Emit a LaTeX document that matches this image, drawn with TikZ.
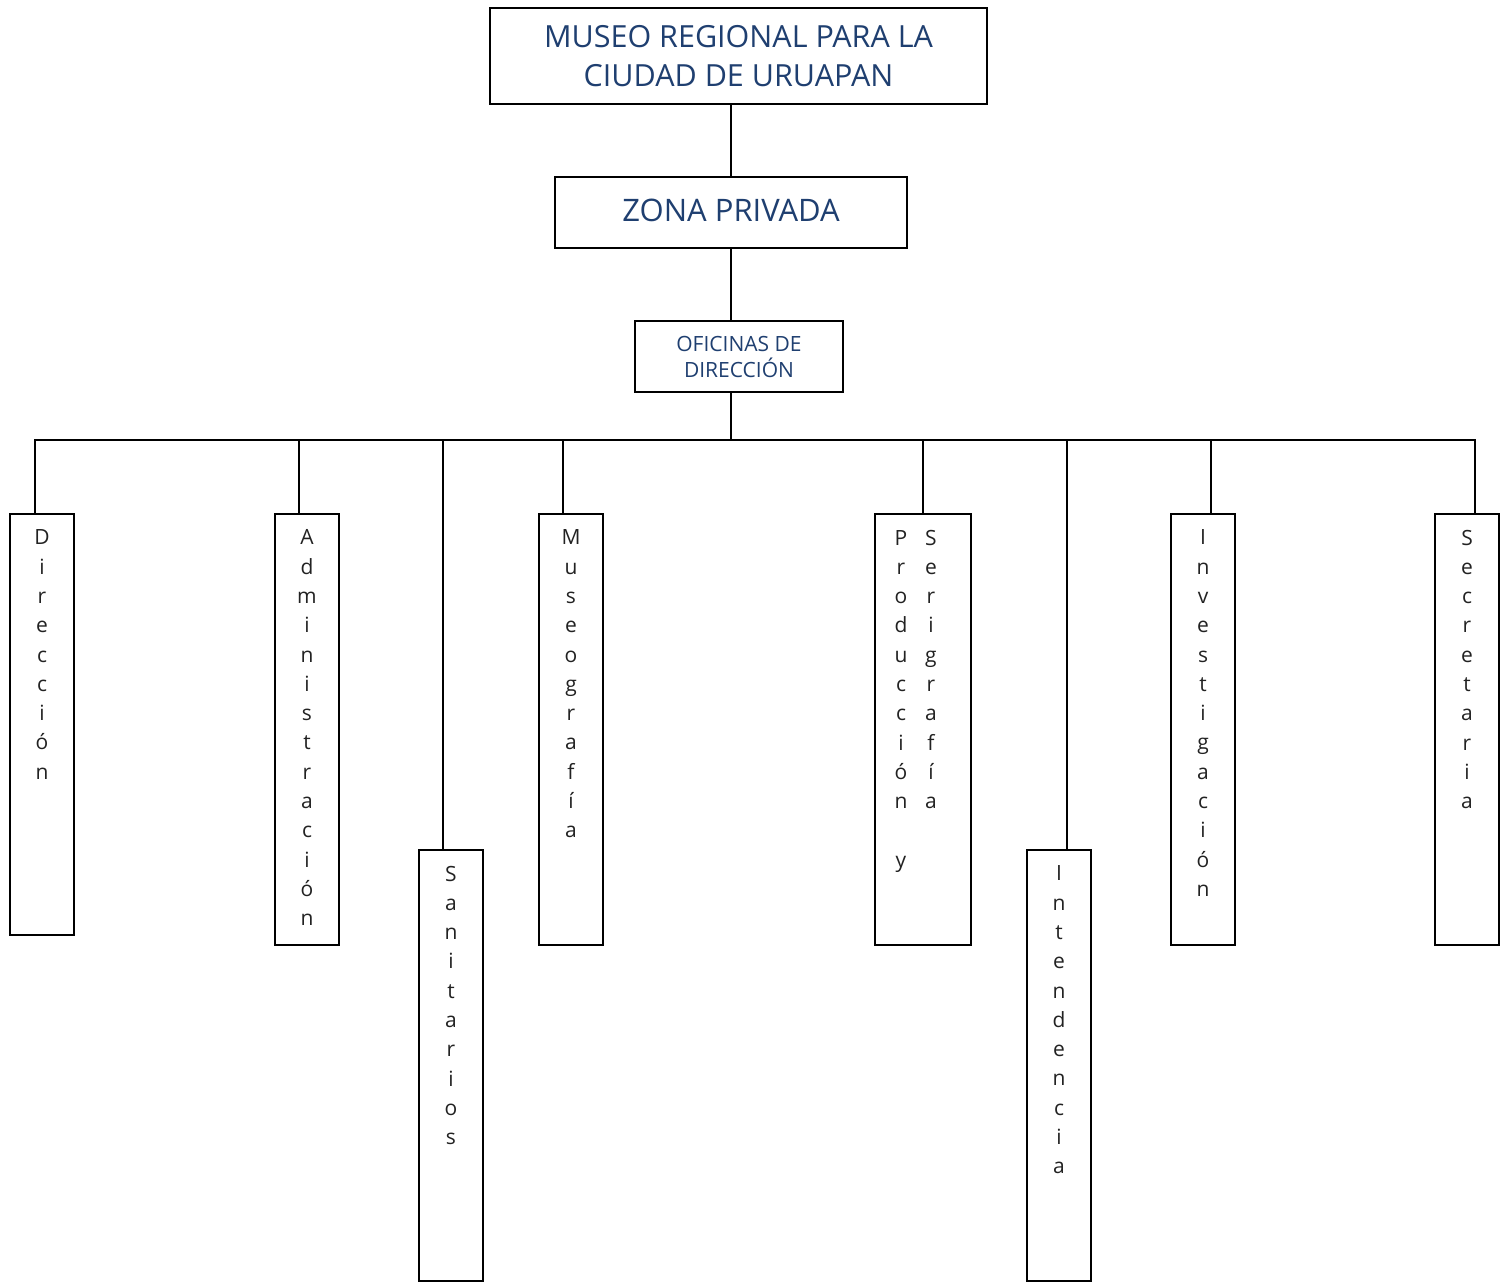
\documentclass[tikz,border=0pt]{standalone}
\usepackage{fontspec}
\setmainfont{Open Sans}
\definecolor{titleblue}{HTML}{1F3F70}
\definecolor{lettergray}{HTML}{222222}
\newcommand\colboxw[3]{\vbox to #1{\hsize=#2\centering\parindent=0pt\baselineskip=29.3pt\vskip 16pt #3\par\vfill}}
\newcommand\colbox[2]{\colboxw{#1}{64pt}{#2}}
\newcommand\pr[2]{\makebox[30pt]{#1}\makebox[30pt]{#2}\makebox[14pt]{}}
\begin{document}
\begin{tikzpicture}[x=1pt,y=-1pt,
  box/.style={draw, line width=1.6pt, inner sep=0pt, text=titleblue, align=center},
  col/.style={draw, line width=1.6pt, inner sep=0pt, anchor=north, text=lettergray, font=\fontsize{21}{29.3}\selectfont},
  link/.style={line width=1.6pt}]
\useasboundingbox (0,0) rectangle (1501,1283);
\node[box, minimum width=497pt, minimum height=96pt, font=\fontsize{30.5}{39}\selectfont] (top) at (738.5,56) {MUSEO REGIONAL PARA LA\\CIUDAD DE URUAPAN};
\node[box, minimum width=352pt, minimum height=71pt, font=\fontsize{31}{34}\selectfont] (zona) at (731,212.5) {\raisebox{4pt}{ZONA PRIVADA}};
\node[box, minimum width=208pt, minimum height=71pt, font=\fontsize{21}{26}\selectfont] (ofi) at (739,356.5) {OFICINAS DE\\DIRECCIÓN};

\node[col] (b1) at (42,513) {\colbox{421pt}{D\par i\par r\par e\par c\par c\par i\par ó\par n}};
\node[col] (b2) at (307,513) {\colbox{431pt}{A\par d\par m\par i\par n\par i\par s\par t\par r\par a\par c\par i\par ó\par n}};
\node[col] (b3) at (451,849) {\colbox{431pt}{S\par a\par n\par i\par t\par a\par r\par i\par o\par s}};
\node[col] (b4) at (571,513) {\colbox{431pt}{M\par u\par s\par e\par o\par g\par r\par a\par f\par í\par a}};
\node[col] (b5) at (923,513) {\colboxw{431pt}{96pt}{\pr{P}{S}\par\pr{r}{e}\par\pr{o}{r}\par\pr{d}{i}\par\pr{u}{g}\par\pr{c}{r}\par\pr{c}{a}\par\pr{i}{f}\par\pr{ó}{í}\par\pr{n}{a}\par\pr{}{}\par\pr{y}{}}};
\node[col] (b6) at (1059,849) {\colbox{431pt}{I\par n\par t\par e\par n\par d\par e\par n\par c\par i\par a}};
\node[col] (b7) at (1203,513) {\colbox{431pt}{I\par n\par v\par e\par s\par t\par i\par g\par a\par c\par i\par ó\par n}};
\node[col] (b8) at (1467,513) {\colbox{431pt}{S\par e\par c\par r\par e\par t\par a\par r\par i\par a}};

\coordinate (bus) at (731,440);
\coordinate (d1) at (35,440);
\coordinate (d2) at (299,440);
\coordinate (d3) at (443,440);
\coordinate (d4) at (563,440);
\coordinate (d5) at (923,440);
\coordinate (d6) at (1067,440);
\coordinate (d7) at (1211,440);
\coordinate (d8) at (1475,440);

\draw[link] (zona.north) -- (zona.north |- top.south);
\draw[link] (zona.south) -- (zona.south |- ofi.north);
\draw[link] (ofi.south -| bus) -- (bus);
\draw[link, line cap=rect] (d1) -- (d8);
\foreach \i in {1,...,8}{\draw[link] (d\i) -- (d\i |- b\i.north);}
\end{tikzpicture}
\end{document}
